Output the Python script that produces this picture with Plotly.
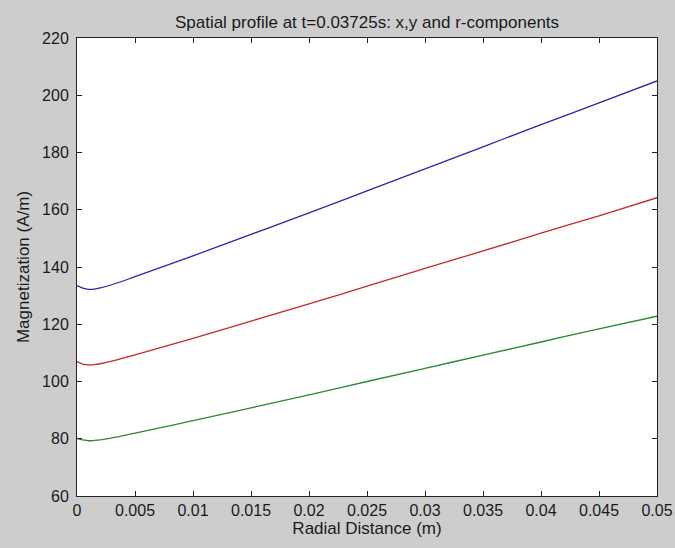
import plotly.graph_objects as go

# Radial distance samples (m)
radial_distance = [0, 0.0005, 0.001, 0.0015, 0.002, 0.003, 0.005, 0.01, 0.015,
                   0.02, 0.025, 0.03, 0.035, 0.04, 0.045, 0.05]
# r-component (blue)
mag_r = [133.5, 132.6, 132.2, 132.3, 132.7, 133.8, 136.6, 143.9, 151.4,
         158.9, 166.6, 174.3, 182.0, 189.7, 197.3, 205.0]
# y-component (red)
mag_y = [107.0, 106.1, 105.8, 105.9, 106.2, 107.1, 109.3, 115.1, 121.1,
         127.1, 133.3, 139.5, 145.6, 151.8, 157.9, 164.2]
# x-component (green)
mag_x = [80.1, 79.6, 79.3, 79.4, 79.6, 80.3, 82.0, 86.3, 90.8,
         95.3, 100.0, 104.6, 109.2, 113.8, 118.4, 122.8]

x_ticks = [0, 0.005, 0.01, 0.015, 0.02, 0.025, 0.03, 0.035, 0.04, 0.045, 0.05]
x_tick_labels = ["0", "0.005", "0.01", "0.015", "0.02", "0.025", "0.03",
                 "0.035", "0.04", "0.045", "0.05"]
y_ticks = [60, 80, 100, 120, 140, 160, 180, 200, 220]

fig = go.Figure()
fig.add_trace(go.Scatter(x=radial_distance, y=mag_r, mode="lines",
                         line=dict(color="#2a2aa0", width=1.3, shape="spline"),
                         showlegend=False))
fig.add_trace(go.Scatter(x=radial_distance, y=mag_y, mode="lines",
                         line=dict(color="#c42a2a", width=1.3, shape="spline"),
                         showlegend=False))
fig.add_trace(go.Scatter(x=radial_distance, y=mag_x, mode="lines",
                         line=dict(color="#2a8a2a", width=1.3, shape="spline"),
                         showlegend=False))

FONT = "Liberation Sans, Arial, sans-serif"
tick_font = dict(family=FONT, size=16, color="#1a1a1a")
label_font = dict(family=FONT, size=17, color="#1a1a1a")

fig.update_layout(
    width=675, height=548,
    paper_bgcolor="#cdcdcd",
    plot_bgcolor="#ffffff",
    margin=dict(l=77, r=18, t=38, b=52, autoexpand=False),
    title=dict(text="Spatial profile at t=0.03725s: x,y and r-components",
               x=0.5, xref="paper", xanchor="center",
               y=1 - 22 / 548, yanchor="middle",
               font=dict(family=FONT, size=17, color="#1a1a1a")),
    font=tick_font,
)
fig.update_xaxes(
    range=[0, 0.05], tickvals=x_ticks, ticktext=x_tick_labels,
    showgrid=False, zeroline=False,
    showline=True, linecolor="#222222", linewidth=1, mirror="ticks",
    ticks="inside", ticklen=5, tickcolor="#222222",
    tickfont=tick_font, ticklabelstandoff=0,
    automargin=False,
    title=dict(text="Radial Distance (m)", font=label_font, standoff=3),
)
fig.update_yaxes(
    range=[60, 220], tickvals=y_ticks,
    showgrid=False, zeroline=False,
    showline=True, linecolor="#222222", linewidth=1, mirror="ticks",
    ticks="inside", ticklen=5, tickcolor="#222222",
    tickfont=tick_font, ticklabelstandoff=4,
    automargin=False,
    title=dict(text="Magnetization (A/m)", font=label_font, standoff=8),
)

fig.write_html(
    "out.html",
    config={"displayModeBar": False},
    post_script="document.body.style.margin='0';document.body.style.background='#cdcdcd';",
)
